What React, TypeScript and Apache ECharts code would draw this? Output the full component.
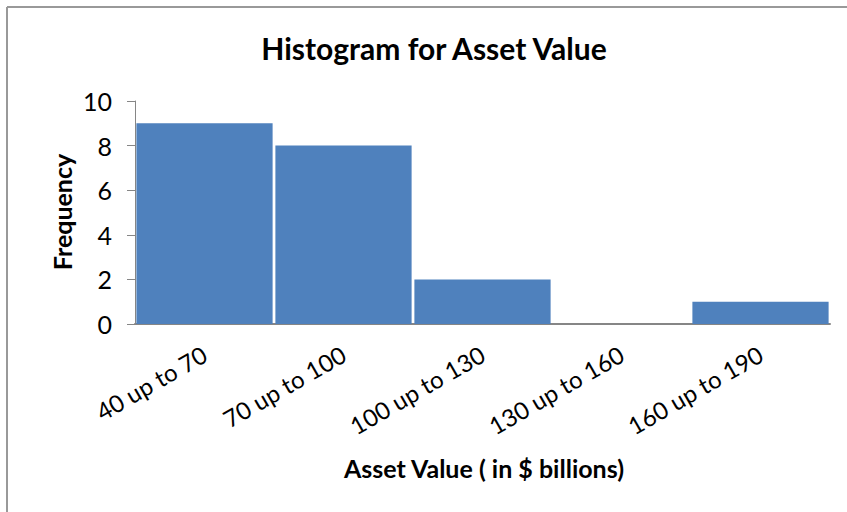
import React, { useEffect, useRef } from "react";
import * as echarts from "echarts";

const categories = ["40 up to 70", "70 up to 100", "100 up to 130", "130 up to 160", "160 up to 190"];
const frequencies = [9, 8, 2, 0, 1];
const yTicks = [0, 2, 4, 6, 8, 10];

const FONT = "Lato, 'Open Sans', sans-serif";

export default function App() {
  const ref = useRef<HTMLDivElement>(null);
  useEffect(() => {
    if (!ref.current) return;
    const chart = echarts.init(ref.current, null, { renderer: "svg" });
    chart.setOption({
      animation: false,
      backgroundColor: "#ffffff",
      textStyle: { fontFamily: FONT },
      grid: { left: 135, right: 17, top: 101, bottom: 188, containLabel: false },
      xAxis: {
        type: "category",
        data: categories,
        axisLine: { show: true, lineStyle: { color: "#868686", width: 2 } },
        axisTick: { show: false },
        axisLabel: {
          rotate: 30,
          interval: 0,
          margin: 28,
          color: "#000",
          fontSize: 24,
          fontFamily: FONT,
        },
      },
      yAxis: {
        type: "value",
        min: yTicks[0],
        max: yTicks[yTicks.length - 1],
        interval: 2,
        splitLine: { show: false },
        axisLine: { show: true, lineStyle: { color: "#868686", width: 1 } },
        axisTick: { show: true, length: 8, lineStyle: { color: "#868686" } },
        axisLabel: { color: "#000", fontSize: 25, margin: 23, fontFamily: FONT },
      },
      series: [
        {
          type: "bar",
          data: frequencies,
          barCategoryGap: "2%",
          itemStyle: { color: "#4F81BD" },
        },
      ],
      graphic: [
        { type: "line", shape: { x1: 7, y1: 7, x2: 847, y2: 7 }, style: { stroke: "#999", lineWidth: 2 } },
        { type: "line", shape: { x1: 7, y1: 7, x2: 7, y2: 512 }, style: { stroke: "#999", lineWidth: 2 } },
        {
          type: "text",
          x: 434,
          y: 48,
          style: {
            text: "Histogram for Asset Value",
            fontSize: 30,
            fontWeight: "bold",
            fontFamily: FONT,
            fill: "#000",
            align: "center",
            verticalAlign: "middle",
          },
        },
        {
          type: "text",
          x: 484,
          y: 468,
          style: {
            text: "Asset Value ( in $ billions)",
            fontSize: 25,
            fontWeight: "bold",
            fontFamily: FONT,
            fill: "#000",
            align: "center",
            verticalAlign: "middle",
          },
        },
        {
          type: "text",
          x: 62,
          y: 212,
          rotation: Math.PI / 2,
          style: {
            text: "Frequency",
            fontSize: 25,
            fontWeight: "bold",
            fontFamily: FONT,
            fill: "#000",
            align: "center",
            verticalAlign: "middle",
          },
        },
      ],
    });
    return () => chart.dispose();
  }, []);
  return <div ref={ref} style={{ width: 847, height: 512, position: "absolute", left: 0, top: 0 }} />;
}
